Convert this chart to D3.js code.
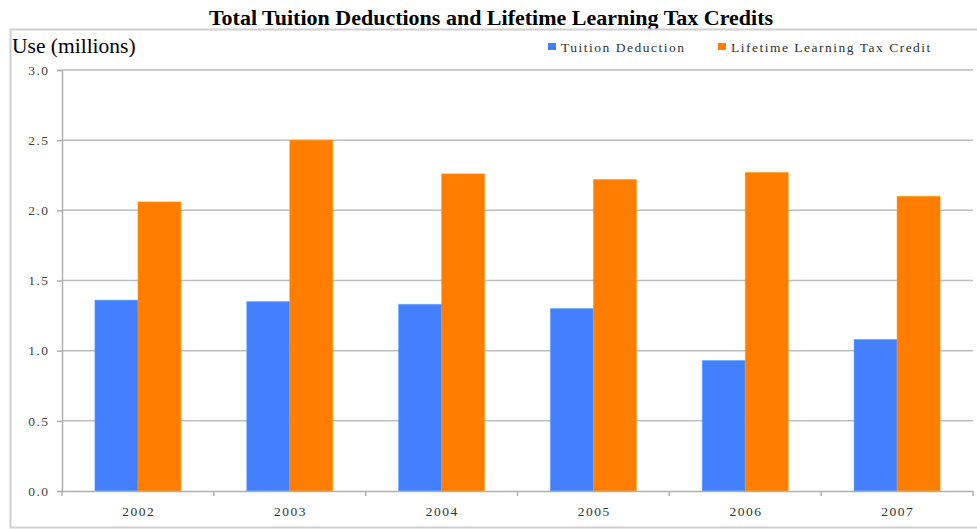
<!DOCTYPE html>
<html>
<head>
<meta charset="utf-8">
<script src="https://cdn.jsdelivr.net/npm/d3@7"></script>
<style>
  html, body { margin: 0; padding: 0; background: #fff; }
  svg { display: block; }
</style>
</head>
<body>
<svg id="chart" width="977" height="529"></svg>
<script>
// Chart data
const years = ["2002", "2003", "2004", "2005", "2006", "2007"];
const seriesNames = ["Tuition Deduction", "Lifetime Learning Tax Credit"];
const tuitionDeduction = [1.36, 1.35, 1.33, 1.30, 0.93, 1.08];
const lifetimeLearning = [2.06, 2.50, 2.26, 2.22, 2.27, 2.10];
const yTicks = [0, 0.5, 1.0, 1.5, 2.0, 2.5, 3.0];
const colors = ["#4480fe", "#ff7d00"];

const rows = years.map((y, i) => ({ year: y, values: [tuitionDeduction[i], lifetimeLearning[i]] }));

const svg = d3.select("#chart");
const W = 977, H = 529;
const margin = { left: 62, right: 4, top: 70, bottom: 38 };
const plotW = W - margin.left - margin.right;   // to x≈973
const plotH = H - margin.top - margin.bottom;   // to y≈491

const serif = "'Liberation Serif', 'Times New Roman', serif";
const smallSize = 13.5;
const smallSpacing = 1.5;

// Title
svg.append("text")
  .attr("x", 491).attr("y", 25)
  .attr("text-anchor", "middle")
  .attr("font-family", serif)
  .attr("font-weight", "bold")
  .attr("font-size", 22)
  .attr("fill", "#000")
  .text("Total Tuition Deductions and Lifetime Learning Tax Credits");

// Frame around the chart panel
svg.append("rect")
  .attr("x", 10.5).attr("y", 29.5)
  .attr("width", W + 10).attr("height", 498)
  .attr("fill", "none")
  .attr("stroke", "#cfcfcf")
  .attr("stroke-width", 2);

// Y axis title
svg.append("text")
  .attr("x", 12).attr("y", 53)
  .attr("font-family", serif)
  .attr("font-size", 21.5)
  .attr("fill", "#000")
  .text("Use (millions)");

const g = svg.append("g").attr("transform", `translate(${margin.left},${margin.top})`);

const y = d3.scaleLinear().domain([0, 3]).range([plotH, 0]);
const x0 = d3.scaleBand().domain(years).range([0, plotW]).padding(0);
const x1 = d3.scaleBand().domain(d3.range(seriesNames.length))
  .range([0, x0.bandwidth()]).paddingInner(0).paddingOuter(0.765);

// Gridlines
g.append("g")
  .selectAll("line")
  .data(yTicks.filter(t => t > 0))
  .join("line")
  .attr("x1", 0).attr("x2", plotW)
  .attr("y1", d => y(d)).attr("y2", d => y(d))
  .attr("stroke", "#bdbdbd")
  .attr("stroke-width", 1.5);

// Bars
const groups = g.append("g")
  .selectAll("g")
  .data(rows)
  .join("g")
  .attr("transform", d => `translate(${x0(d.year)},0)`);

groups.selectAll("rect")
  .data(d => d.values.map((v, i) => ({ v, i })))
  .join("rect")
  .attr("x", d => x1(d.i))
  .attr("width", x1.bandwidth())
  .attr("y", d => y(d.v))
  .attr("height", d => y(0) - y(d.v))
  .attr("fill", d => colors[d.i])
  .attr("stroke", d => d3.color(colors[d.i]).brighter(0.6))
  .attr("stroke-opacity", 0.5)
  .attr("stroke-width", 1);

// Y axis
const yAxis = g.append("g")
  .call(d3.axisLeft(y).tickValues(yTicks).tickFormat(d3.format(".1f")).tickSize(5).tickPadding(7.5));
yAxis.select(".domain").attr("stroke", "#b0b0b0").attr("stroke-width", 1.5);
yAxis.selectAll(".tick line").attr("stroke", "#b0b0b0").attr("stroke-width", 1.5);
yAxis.selectAll(".tick text")
  .attr("font-family", serif).attr("font-size", smallSize)
  .attr("letter-spacing", smallSpacing).attr("fill", "#444");

// X axis
const xAxis = g.append("g")
  .attr("transform", `translate(0,${plotH})`)
  .call(d3.axisBottom(x0).tickSize(0).tickPadding(15));
xAxis.select(".domain").attr("stroke", "#b0b0b0").attr("stroke-width", 1.5);
xAxis.selectAll(".tick text")
  .attr("font-family", serif).attr("font-size", smallSize)
  .attr("letter-spacing", smallSpacing).attr("dx", smallSpacing / 2)
  .attr("fill", "#333");

// Category boundary ticks
g.append("g")
  .selectAll("line")
  .data(years.map(yr => x0(yr)).concat([plotW]))
  .join("line")
  .attr("x1", d => d).attr("x2", d => d)
  .attr("y1", plotH).attr("y2", plotH + 5)
  .attr("stroke", "#b0b0b0").attr("stroke-width", 1.5);

// Legend
const legendX = [548, 718];
const legend = svg.append("g");
seriesNames.forEach((name, i) => {
  legend.append("rect")
    .attr("x", legendX[i]).attr("y", 43)
    .attr("width", 8).attr("height", 7)
    .attr("fill", colors[i]);
  legend.append("text")
    .attr("x", legendX[i] + 13).attr("y", 52)
    .attr("font-family", serif).attr("font-size", smallSize)
    .attr("letter-spacing", smallSpacing)
    .attr("fill", "#333")
    .text(name);
});
</script>
</body>
</html>
